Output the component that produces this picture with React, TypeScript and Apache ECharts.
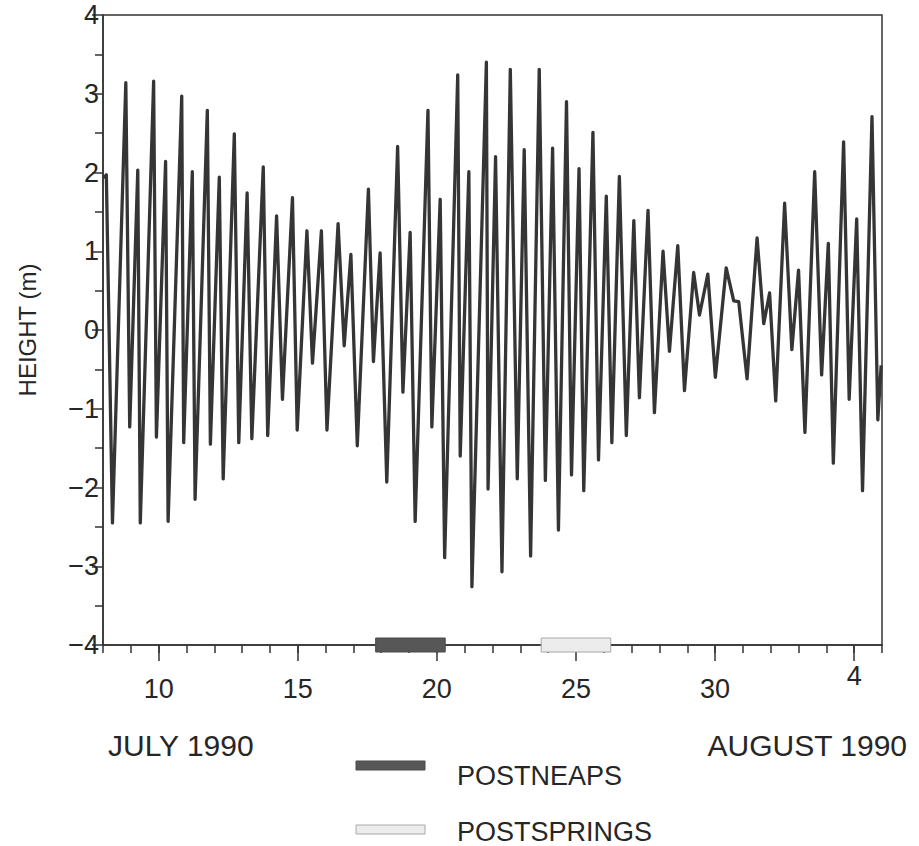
import React, { useEffect, useRef } from "react";
import * as echarts from "echarts";

// Tide record: day of July 1990 (days > 31 run into August) and height (m)
const tideDays = [
  8.02, 8.12, 8.34, 8.82, 8.96, 9.25, 9.34, 9.82, 9.92, 10.25, 10.34, 10.83, 10.9, 11.21, 11.31,
  11.75, 11.86, 12.18, 12.32, 12.72, 12.88, 13.18, 13.35, 13.76, 13.92, 14.24, 14.45, 14.81, 14.98,
  15.33, 15.53, 15.85, 16.05, 16.45, 16.67, 16.91, 17.14, 17.54, 17.72, 17.96, 18.2, 18.59, 18.78,
  19.04, 19.22, 19.68, 19.82, 20.12, 20.28, 20.75, 20.84, 21.15, 21.26, 21.78, 21.84, 22.11, 22.34,
  22.64, 22.89, 23.14, 23.37, 23.68, 23.9, 24.16, 24.37, 24.66, 24.84, 25.11, 25.28, 25.61, 25.81,
  26.09, 26.29, 26.56, 26.81, 27.08, 27.28, 27.59, 27.82, 28.13, 28.36, 28.66, 28.9, 29.23, 29.44,
  29.74, 30.01, 30.4, 30.67, 30.85, 31.15, 31.51, 31.75, 31.96, 32.18, 32.5, 32.76, 33.0, 33.23,
  33.58, 33.83, 34.07, 34.25, 34.62, 34.82, 35.09, 35.3, 35.64, 35.85, 35.97,
];
const tideHeights = [
  1.93, 1.97, -2.45, 3.14, -1.23, 2.03, -2.45, 3.16, -1.36, 2.14, -2.43, 2.97, -1.43, 2.01, -2.15,
  2.79, -1.45, 1.94, -1.89, 2.49, -1.43, 1.74, -1.38, 2.07, -1.34, 1.45, -0.88, 1.68, -1.27,
  1.26, -0.42, 1.26, -1.27, 1.35, -0.2, 0.96, -1.47, 1.79, -0.4, 0.98, -1.93, 2.33, -0.79,
  1.24, -2.43, 2.79, -1.23, 1.66, -2.89, 3.24, -1.6, 2.01, -3.26, 3.4, -2.02, 2.2, -3.07,
  3.31, -1.89, 2.29, -2.87, 3.31, -1.91, 2.31, -2.54, 2.9, -1.84, 2.05, -2.04, 2.51, -1.65,
  1.7, -1.43, 1.95, -1.34, 1.39, -0.86, 1.52, -1.05, 1.0, -0.27, 1.07, -0.77, 0.73, 0.19,
  0.71, -0.6, 0.79, 0.37, 0.36, -0.62, 1.17, 0.08, 0.47, -0.9, 1.61, -0.25, 0.76, -1.3,
  2.01, -0.57, 1.1, -1.69, 2.39, -0.88, 1.41, -2.04, 2.71, -1.14, -0.45,
];

// Axis ticks and labels
const majorDayTicks = [10, 15, 20, 25, 30, 35];
const majorDayLabels = ["10", "15", "20", "25", "30", "4"];
const monthLabels = ["JULY 1990", "AUGUST 1990"];

// Sampling periods marked on the time axis
const periodNames = ["POSTNEAPS", "POSTSPRINGS"];
const periodStarts = [17.8, 23.75];
const periodEnds = [20.3, 26.25];
const periodFills = ["#575757", "#ececec"];
const periodStrokes = ["#4a4a4a", "#a8a8a8"];

const FONT = "'Liberation Sans', Arial, sans-serif";
const INK = "#262626";

export default function App() {
  const ref = useRef<HTMLDivElement>(null);

  useEffect(() => {
    if (!ref.current) return;
    const chart = echarts.init(ref.current, null, { renderer: "svg" });

    const lineData = tideDays.map((d, i) => [d, tideHeights[i]]);
    const periodData = periodNames.map((_, i) => [periodStarts[i], periodEnds[i], i]);

    const option: any = {
      animation: false,
      backgroundColor: "#ffffff",
      textStyle: { fontFamily: FONT, color: INK },
      grid: {
        left: 103,
        right: 37,
        top: 15,
        bottom: 201,
        show: true,
        borderColor: "#333",
        borderWidth: 1.5,
        backgroundColor: "transparent",
      },
      xAxis: [
        {
          type: "value",
          min: 8,
          max: 36,
          interval: 1,
          position: "bottom",
          axisLine: { show: true, onZero: false, lineStyle: { color: "#333", width: 1.5 } },
          axisTick: { show: true, inside: false, length: 8, lineStyle: { color: "#333", width: 1.5 } },
          axisLabel: { show: false },
          splitLine: { show: false },
        },
        {
          type: "value",
          min: 8,
          max: 36,
          position: "bottom",
          axisLine: { show: false, onZero: false },
          axisTick: {
            show: true,
            inside: false,
            length: 16,
            customValues: majorDayTicks,
            lineStyle: { color: "#333", width: 1.5 },
          },
          axisLabel: {
            show: true,
            customValues: majorDayTicks,
            margin: 17,
            fontSize: 27,
            fontFamily: FONT,
            color: INK,
            formatter: (v: number) => {
              const idx = majorDayTicks.indexOf(v);
              const txt = idx >= 0 ? majorDayLabels[idx] : "";
              return idx === majorDayTicks.length - 1 ? "{hi|" + txt + "}" : "{lo|" + txt + "}";
            },
            rich: {
              hi: { fontSize: 27, fontFamily: FONT, color: INK, padding: [0, 0, 0, 0] },
              lo: { fontSize: 27, fontFamily: FONT, color: INK, padding: [13, 0, 0, 0] },
            },
          },
          splitLine: { show: false },
        },
      ],
      yAxis: {
        type: "value",
        min: -4,
        max: 4,
        interval: 1,
        name: "HEIGHT (m)",
        nameLocation: "middle",
        nameGap: 64,
        nameRotate: 90,
        nameTextStyle: { fontSize: 24, fontFamily: FONT, color: INK },
        axisLine: { show: true, onZero: false, lineStyle: { color: "#333", width: 1.5 } },
        axisTick: { show: true, inside: false, length: 11, lineStyle: { color: "#333", width: 1.5 } },
        minorTick: { show: true, splitNumber: 2, length: 8, lineStyle: { color: "#333", width: 1.5 } },
        axisLabel: {
          fontSize: 27,
          margin: 4,
          fontFamily: FONT,
          color: INK,
          formatter: (v: number) => (v < 0 ? "\u2212" + Math.abs(v) : String(v)),
        },
        splitLine: { show: false },
      },
      series: [
        {
          type: "line",
          name: "Height",
          xAxisIndex: 0,
          data: lineData,
          showSymbol: false,
          symbol: "none",
          smooth: false,
          lineStyle: { color: "#353535", width: 3.3, join: "round" },
          z: 3,
        },
        {
          type: "custom",
          name: "Periods",
          xAxisIndex: 0,
          clip: false,
          data: periodData,
          encode: { x: [0, 1] },
          renderItem: (_params: any, api: any) => {
            const s = api.coord([api.value(0), -4]);
            const e = api.coord([api.value(1), -4]);
            const i = api.value(2);
            return {
              type: "rect",
              shape: { x: s[0], y: s[1] - 7, width: e[0] - s[0], height: 14 },
              style: { fill: periodFills[i], stroke: periodStrokes[i], lineWidth: 1 },
            };
          },
          z: 5,
        },
      ],
      graphic: [
        {
          type: "text",
          x: 108,
          y: 745,
          style: { text: monthLabels[0], fontSize: 30, fontFamily: FONT, fill: INK, verticalAlign: "middle", align: "left" },
        },
        {
          type: "text",
          x: 907,
          y: 745,
          style: { text: monthLabels[1], fontSize: 30, fontFamily: FONT, fill: INK, verticalAlign: "middle", align: "right" },
        },
        {
          type: "rect",
          shape: { x: 356, y: 761, width: 69, height: 9 },
          style: { fill: periodFills[0], stroke: periodStrokes[0], lineWidth: 1 },
        },
        {
          type: "text",
          x: 457,
          y: 776,
          style: { text: periodNames[0], fontSize: 27, fontFamily: FONT, fill: INK, verticalAlign: "middle", align: "left" },
        },
        {
          type: "rect",
          shape: { x: 356, y: 825, width: 69, height: 9 },
          style: { fill: periodFills[1], stroke: periodStrokes[1], lineWidth: 1 },
        },
        {
          type: "text",
          x: 457,
          y: 832,
          style: { text: periodNames[1], fontSize: 27, fontFamily: FONT, fill: INK, verticalAlign: "middle", align: "left" },
        },
      ],
    };

    chart.setOption(option);
    return () => chart.dispose();
  }, []);

  return (
    <div
      ref={ref}
      style={{ position: "absolute", left: 0, top: 0, width: 919, height: 846, background: "#fff" }}
    />
  );
}
